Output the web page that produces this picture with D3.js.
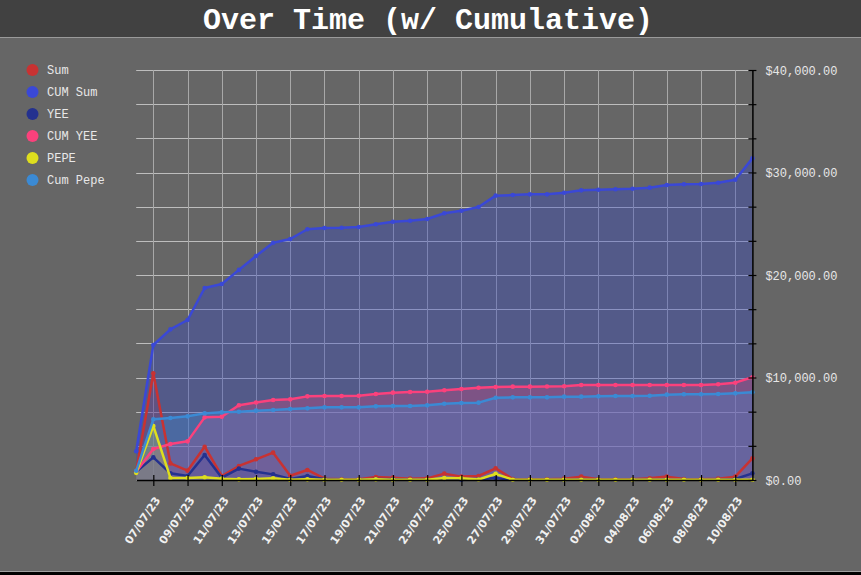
<!DOCTYPE html>
<html>
<head>
<meta charset="utf-8">
<script src="https://cdn.jsdelivr.net/npm/d3@7"></script>
<style>
  html, body { margin: 0; padding: 0; background: #666666; }
  svg { display: block; }
</style>
</head>
<body>
<svg id="chart" width="861" height="575"></svg>
<script>
// ---------- DATA ----------
const title = "Over Time (w/ Cumulative)";
const dates = [
  "06/07/23","07/07/23","08/07/23","09/07/23","10/07/23","11/07/23","12/07/23","13/07/23",
  "14/07/23","15/07/23","16/07/23","17/07/23","18/07/23","19/07/23","20/07/23","21/07/23",
  "22/07/23","23/07/23","24/07/23","25/07/23","26/07/23","27/07/23","28/07/23","29/07/23",
  "30/07/23","31/07/23","01/08/23","02/08/23","03/08/23","04/08/23","05/08/23","06/08/23",
  "07/08/23","08/08/23","09/08/23","10/08/23","11/08/23"
];
const tickLabels = [
  "07/07/23","09/07/23","11/07/23","13/07/23","15/07/23","17/07/23","19/07/23","21/07/23",
  "23/07/23","25/07/23","27/07/23","29/07/23","31/07/23","02/08/23","04/08/23","06/08/23",
  "08/08/23","10/08/23"
];
const seriesNames = ["Sum", "CUM Sum", "YEE", "CUM YEE", "PEPE", "Cum Pepe"];
const sumValues = [850,10410,1620,910,3250,390,1370,2020,2670,420,980,130,65,65,290,230,130,160,620,330,390,1140,100,65,65,130,330,65,65,65,160,330,100,65,130,330,2110];
const cumSumValues = [2800,13170,14700,15610,18730,19120,20500,21850,23150,23510,24460,24590,24610,24680,24950,25200,25300,25460,26020,26270,26630,27740,27800,27870,27870,28030,28260,28320,28360,28420,28520,28780,28850,28880,29000,29300,31380];
const yeeValues = [810,2210,650,390,2440,230,1110,810,550,100,390,65,30,30,100,65,30,30,100,30,65,200,30,30,30,30,30,30,30,30,30,30,30,30,30,100,650];
const cumYeeValues = [810,3020,3510,3770,6110,6180,7290,7560,7800,7870,8160,8195,8195,8225,8390,8520,8585,8615,8750,8880,9005,9070,9105,9105,9120,9140,9270,9270,9270,9270,9270,9270,9270,9270,9335,9495,10020];
const pepeValues = [700,5270,200,200,260,130,65,100,160,30,65,30,30,30,65,30,30,30,200,160,50,600,30,30,30,30,30,30,30,30,30,30,30,30,30,30,30];
const cumPepeValues = [900,5920,6050,6210,6500,6600,6665,6765,6830,6925,6990,7090,7090,7090,7185,7220,7220,7285,7445,7510,7545,8030,8065,8065,8065,8130,8130,8160,8195,8195,8225,8325,8360,8360,8390,8455,8555];
const yMax = 40000;
const yTickCount = 12;

// ---------- STYLE ----------
const lineColors = ["#c83232", "#3a48d6", "#24318f", "#fb417c", "#dede1e", "#3b8ad4"];
const fillColors = ["rgba(200,50,50,0.25)", "rgba(50,70,200,0.36)", "rgba(36,49,143,0.3)",
                    "rgba(251,65,124,0.25)", "rgba(222,222,30,0.3)", "rgba(59,138,212,0.32)"];

const parse = d3.timeParse("%d/%m/%y");
const allValues = [sumValues, cumSumValues, yeeValues, cumYeeValues, pepeValues, cumPepeValues];
const series = seriesNames.map((name, i) => ({
  name, line: lineColors[i], fill: fillColors[i],
  points: dates.map((d, j) => ({ date: parse(d), value: allValues[i][j] }))
}));

const svg = d3.select("#chart");
const W = 861, H = 575;

// Title bar
svg.append("rect").attr("x", 0).attr("y", 0).attr("width", W).attr("height", 37).attr("fill", "#414141");
svg.append("line").attr("x1", 0).attr("x2", W).attr("y1", 37.5).attr("y2", 37.5).attr("stroke", "#9a9a9a").attr("stroke-width", 1);
svg.append("text").text(title)
  .attr("x", 428).attr("y", 29).attr("text-anchor", "middle")
  .attr("font-family", "'Liberation Mono', 'Courier New', monospace")
  .attr("font-weight", "bold").attr("font-size", 30).attr("fill", "#ffffff");

// bottom frame
svg.append("line").attr("x1", 0).attr("x2", W).attr("y1", 571.5).attr("y2", 571.5).attr("stroke", "#a0a0a0");
svg.append("rect").attr("x", 0).attr("y", 572).attr("width", W).attr("height", 3).attr("fill", "#000");

// Scales
const x = d3.scaleTime().domain([parse(dates[0]), parse(dates[dates.length - 1])]).range([136.2, 752.4]);
const y = d3.scaleLinear().domain([0, yMax]).range([480, 70]);
const yTicks = d3.range(0, yTickCount + 1).map(i => i * yMax / yTickCount);
const xTicks = tickLabels.map(parse);

// Grid
const grid = svg.append("g");
grid.selectAll("line.h").data(yTicks).join("line")
  .attr("x1", x.range()[0]).attr("x2", x.range()[1])
  .attr("y1", d => Math.round(y(d)) + 0.5).attr("y2", d => Math.round(y(d)) + 0.5)
  .attr("stroke", "#bdbdbd").attr("stroke-width", 1);
grid.selectAll("line.v").data(xTicks).join("line")
  .attr("x1", d => Math.round(x(d)) + 0.5).attr("x2", d => Math.round(x(d)) + 0.5)
  .attr("y1", y(yMax)).attr("y2", y(0))
  .attr("stroke", "#a8a8a8").attr("stroke-width", 1);

// Areas and lines
const area = d3.area().x(d => x(d.date)).y0(y(0)).y1(d => y(d.value));
const line = d3.line().x(d => x(d.date)).y(d => y(d.value));

const areaG = svg.append("g");
series.forEach(s => {
  areaG.append("path").datum(s.points).attr("d", area).attr("fill", s.fill).attr("stroke", "none");
});
const lineG = svg.append("g");
series.forEach(s => {
  const g = lineG.append("g");
  g.append("path").datum(s.points).attr("d", line)
    .attr("fill", "none").attr("stroke", s.line).attr("stroke-width", 2.5).attr("stroke-linejoin", "round");
  g.selectAll("circle").data(s.points).join("circle")
    .attr("cx", d => x(d.date)).attr("cy", d => y(d.value)).attr("r", 2.3).attr("fill", s.line);
});

// Axes
const fmtMoney = d3.format("$,.2f");
const yAxis = d3.axisRight(y).tickValues(yTicks).tickSizeInner(4).tickSizeOuter(0)
  .tickFormat(d => (Math.round(d) % 10000 === 0) ? fmtMoney(d) : "");
const yg = svg.append("g").attr("transform", `translate(${x.range()[1]},0)`).call(yAxis);
yg.select(".domain").attr("stroke", "#000").attr("stroke-width", 1.5);
yg.selectAll(".tick line").attr("x1", -4).attr("x2", 4).attr("stroke", "#000").attr("stroke-width", 1.2);
yg.selectAll(".tick text").attr("x", 13).attr("dy", "0.35em")
  .attr("font-family", "'Liberation Mono', 'Courier New', monospace").attr("font-size", 12)
  .attr("fill", "#e6e6e6");

const xAxis = d3.axisBottom(x).tickValues(xTicks).tickSizeOuter(0).tickSizeInner(6)
  .tickFormat(d3.timeFormat("%d/%m/%y"));
const xg = svg.append("g").attr("transform", `translate(0,${y(0)})`).call(xAxis);
xg.select(".domain").attr("stroke", "#000").attr("stroke-width", 1.5);
xg.selectAll(".tick line").attr("y1", -5).attr("y2", 6).attr("stroke", "#000").attr("stroke-width", 1.2);
xg.selectAll(".tick text")
  .attr("y", 0).attr("dy", "0.35em")
  .attr("text-anchor", "end")
  .attr("transform", "translate(3.7,18) rotate(-56)")
  .attr("font-family", "'DejaVu Sans', sans-serif").attr("font-weight", "bold").attr("font-size", 11)
  .attr("fill", "#f0f0f0");

// Legend
const legend = svg.append("g");
series.forEach((s, i) => {
  const ly = 70 + i * 22;
  legend.append("circle").attr("cx", 32.5).attr("cy", ly).attr("r", 6).attr("fill", s.line);
  legend.append("text").text(s.name).attr("x", 47).attr("y", ly + 4)
    .attr("font-family", "'Liberation Mono', 'Courier New', monospace").attr("font-size", 12)
    .attr("fill", "#e8e8e8");
});
</script>
</body>
</html>
